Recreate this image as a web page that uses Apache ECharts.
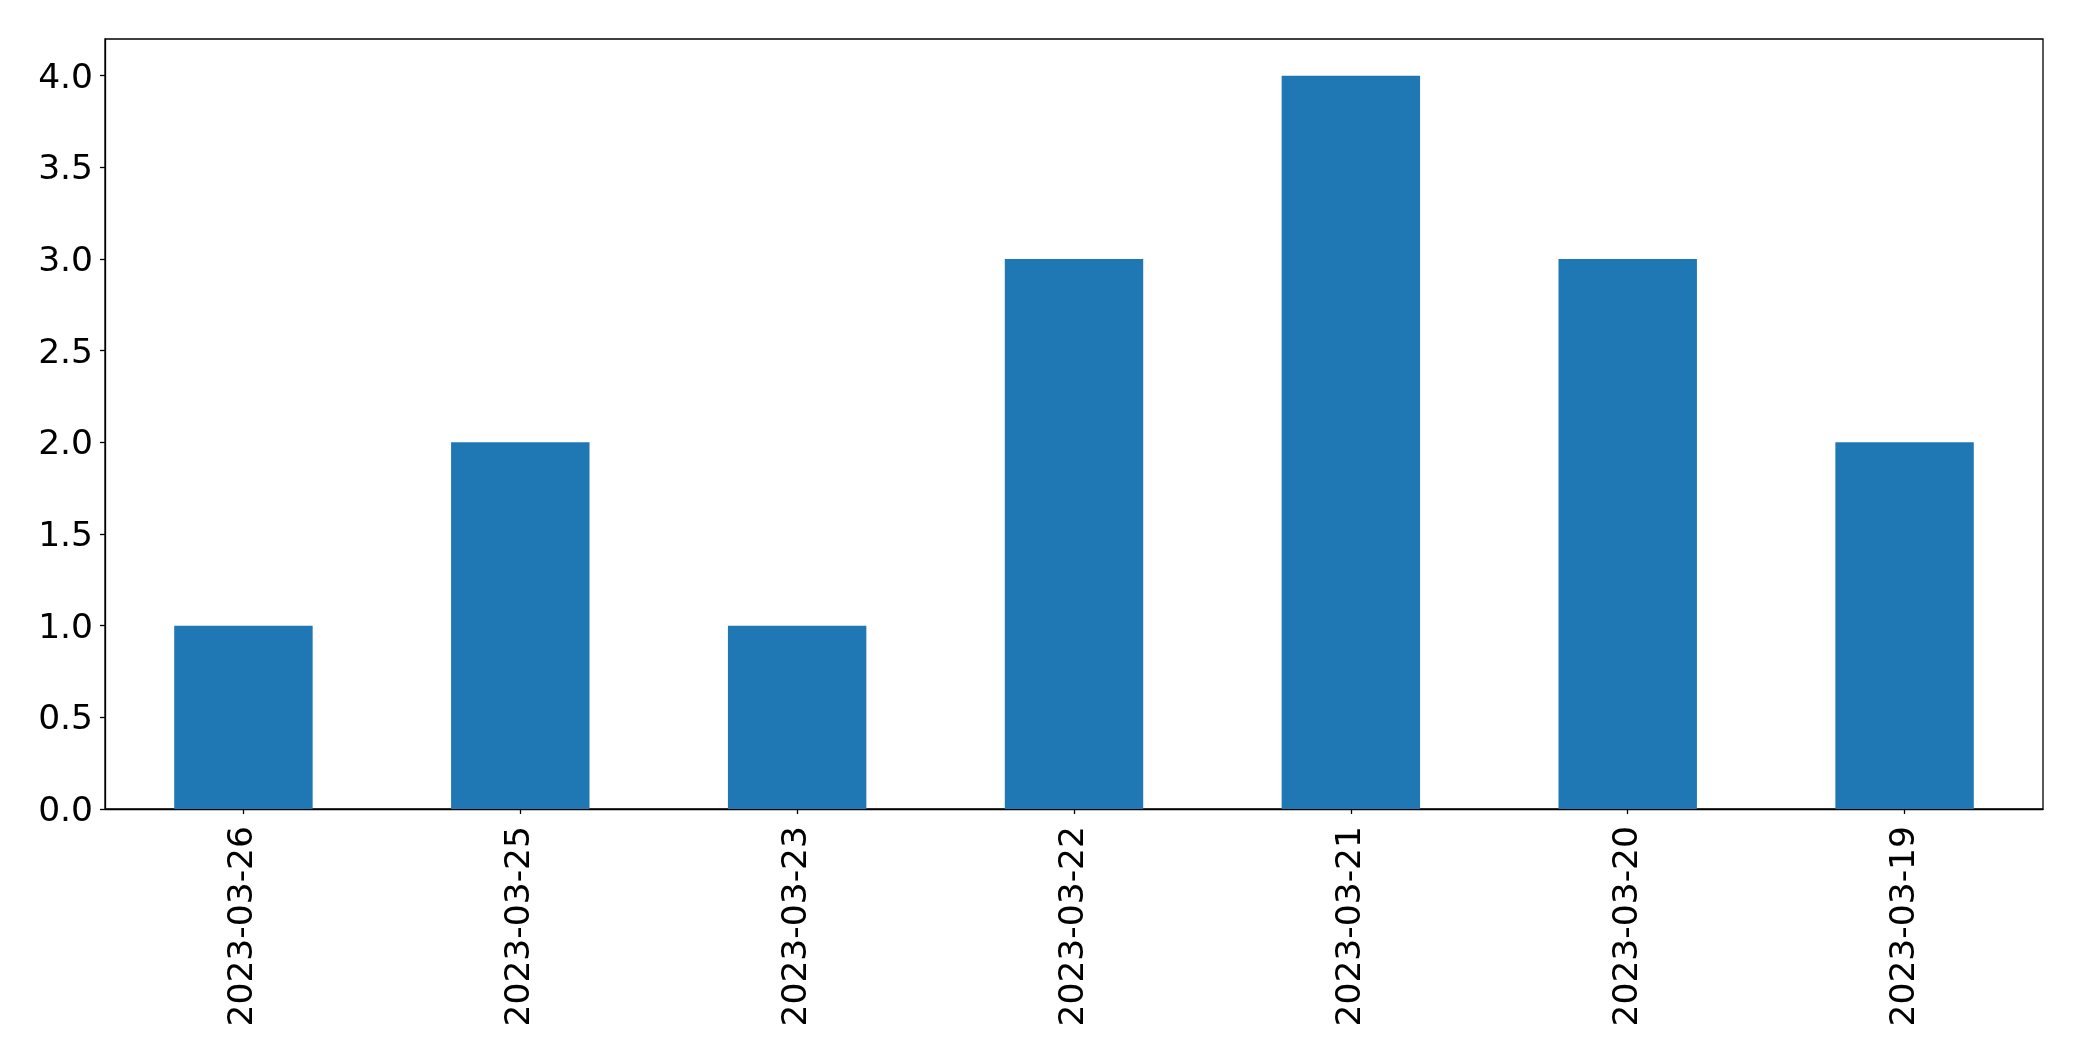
<!DOCTYPE html>
<html><head><meta charset="utf-8">
<script src="https://cdn.jsdelivr.net/npm/echarts@6/dist/echarts.min.js"></script>
<style>html,body{margin:0;padding:0;background:#fff}#c{width:2082px;height:1061px}</style>
</head><body><div id="c"></div>
<script>
const categories = ['2023-03-26','2023-03-25','2023-03-23','2023-03-22','2023-03-21','2023-03-20','2023-03-19'];
const values = [1, 2, 1, 3, 4, 3, 2];
const yTicks = [0, 0.5, 1, 1.5, 2, 2.5, 3, 3.5, 4];

const chart = echarts.init(document.getElementById('c'), null, {renderer: 'canvas'});
const font = 'DejaVu Sans';
chart.setOption({
  animation: false,
  backgroundColor: '#fff',
  grid: {left: 105, top: 39, width: 1938, height: 770, show: true, borderColor: '#000', borderWidth: 1.3, containLabel: false},
  xAxis: {
    type: 'category', data: categories,
    axisLine: {show: true, lineStyle: {color: '#000', width: 1.3}},
    axisTick: {show: true, alignWithLabel: true, length: 5, lineStyle: {color: '#000', width: 1.3}},
    axisLabel: {rotate: 90, color: '#000', fontFamily: font, fontSize: 34.5, margin: 17},
    splitLine: {show: false}
  },
  yAxis: {
    type: 'value', min: 0, max: 4.2, interval: 0.5,
    axisLine: {show: true, lineStyle: {color: '#000', width: 1.3}},
    axisTick: {show: true, length: 5, lineStyle: {color: '#000', width: 1.3}},
    axisLabel: {color: '#000', fontFamily: font, fontSize: 34.5, margin: 12,
      formatter: v => yTicks.includes(v) ? '{a|' + v.toFixed(1) + '}' : '', showMaxLabel: false,
      rich: {a: {fontFamily: font, fontSize: 34.5, color: '#000', padding: [6, 0, 0, 0]}}},
    splitLine: {show: false}
  },
  series: [{
    type: 'bar', data: values, barWidth: '50%',
    itemStyle: {color: '#1f77b4'}
  }]
});
</script></body></html>
